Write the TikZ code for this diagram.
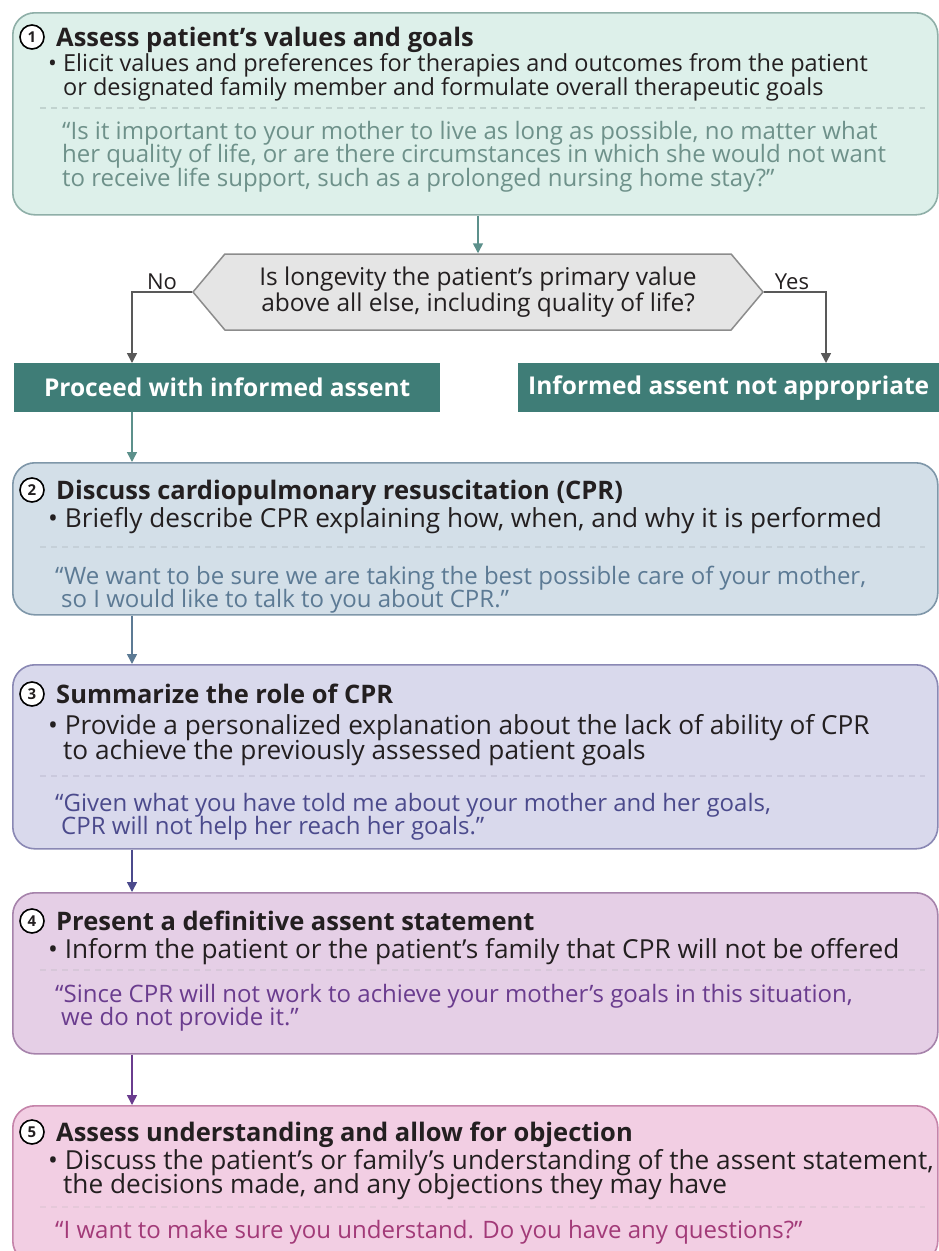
\documentclass[tikz,border=0pt]{standalone}
\usepackage{fontspec}
\setmainfont{Open Sans}
\usepackage{tikz}
\usetikzlibrary{arrows.meta,positioning,calc,shapes.symbols}
\definecolor{fillA}{HTML}{DDF0EA}\definecolor{lineA}{HTML}{8FAFA8}\definecolor{quoteA}{HTML}{6E918A}
\definecolor{fillB}{HTML}{D3DFE8}\definecolor{lineB}{HTML}{7F97A9}\definecolor{quoteB}{HTML}{5C7A94}
\definecolor{fillC}{HTML}{D9D9EC}\definecolor{lineC}{HTML}{8A88B4}\definecolor{quoteC}{HTML}{4B4A8C}
\definecolor{fillD}{HTML}{E5CFE6}\definecolor{lineD}{HTML}{A683AB}\definecolor{quoteD}{HTML}{6A3C8E}
\definecolor{fillE}{HTML}{F2CEE3}\definecolor{lineE}{HTML}{C584AA}\definecolor{quoteE}{HTML}{A23A78}
\definecolor{assentgreen}{HTML}{3F7D77}
\definecolor{darktext}{HTML}{231F20}
\tikzset{
  >={Triangle[width=10pt,length=10pt]},
  stepbox/.style={draw, line width=1.6pt, rounded corners=22pt, anchor=north west, minimum width=925pt, inner sep=0pt},
  numcirc/.style={draw, circle, line width=1.6pt, fill=white, minimum size=24pt, inner sep=0pt, text=darktext, font=\bfseries\fontsize{15}{15}\selectfont},
  topttl/.style={anchor=base west, inner sep=0pt, text=darktext, font=\bfseries\fontsize{25.5}{28}\selectfont},
  toptxt/.style={anchor=base west, inner sep=0pt, text=darktext, font=\fontsize{23.5}{26}\selectfont},
  topquote/.style={toptxt, font=\fontsize{24}{26}\selectfont},
  ttl/.style={anchor=base west, inner sep=0pt, text=darktext, font=\bfseries\fontsize{25.5}{28}\selectfont},
  txt/.style={anchor=base west, inner sep=0pt, text=darktext, font=\fontsize{26.2}{28}\selectfont},
  quote/.style={txt, font=\fontsize{24}{26}\selectfont},
  sep/.style={dash pattern=on 6pt off 5pt, line width=1.5pt},
  outcome/.style={anchor=north west, fill=assentgreen, text=white, minimum height=49pt, inner sep=0pt, font=\bfseries\fontsize{24.5}{26}\selectfont},
  decision/.style={signal, signal to=west and east, signal pointer angle=100, draw=black!45, fill=black!10, line width=1.5pt, minimum width=570pt, minimum height=76pt, inner sep=0pt, align=center, text=darktext, font=\fontsize{24.5}{26}\selectfont},
  lbl/.style={inner sep=0pt, text=darktext, font=\fontsize{22}{24}\selectfont},
  conn/.style={->, line width=1.5pt},
}

\begin{document}
\begin{tikzpicture}[x=1pt, y=-1pt]
  \useasboundingbox[fill=white] (0,0) rectangle (939,1251);
  \coordinate (spine) at (132,0);
  \coordinate (yesX) at (826,0);

  % step 1
  \node[stepbox, fill=fillA, draw=lineA, minimum height=202pt] (box1) at (12,12) {};
  \node[numcirc] (c1) at (32,37) {1};
  \node[topttl] (t1) at (56,46) {Assess patient’s values and goals};
  \node[toptxt] (b1a) at (48,71) {• Elicit values and preferences for therapies and outcomes from the patient};
  \node[toptxt] (b1b) at (63,95) {or designated family member and formulate overall therapeutic goals};
  \draw[sep, draw=lineA!55] (40,108) -- (925,108);
  \node[topquote, text=quoteA] (q1a) at (62,139) {“Is it important to your mother to live as long as possible, no matter what};
  \node[topquote, text=quoteA] (q1b) at (62,162) {her quality of life, or are there circumstances in which she would not want};
  \node[topquote, text=quoteA] (q1c) at (62,186) {to receive life support, such as a prolonged nursing home stay?”};

  % decision
  \node[decision] (hex) at (478,292) {Is longevity the patient’s primary value\\above all else, including quality of life?};
  \node[lbl] (nolbl) at (162,282) {No};
  \node[lbl] (yeslbl) at (792,282) {Yes};
  \node[outcome, minimum width=426pt] (proceed) at (14,363) {Proceed with informed assent};
  \node[outcome, minimum width=421pt] (notappr) at (518,363) {Informed assent not appropriate};

  % step 2
  \node[stepbox, fill=fillB, draw=lineB, minimum height=152pt] (box2) at (12,462) {};
  \node[numcirc] (c2) at (32,490) {2};
  \node[ttl] (t2) at (56,499) {Discuss cardiopulmonary resuscitation (CPR)};
  \node[txt] (b2a) at (48,527) {• Briefly describe CPR explaining how, when, and why it is performed};
  \draw[sep, draw=lineB!45] (40,547) -- (925,547);
  \node[quote, text=quoteB] (q2a) at (55,584) {“We want to be sure we are taking the best possible care of your mother,};
  \node[quote, text=quoteB] (q2b) at (61,607) {so I would like to talk to you about CPR.”};

  % step 3
  \node[stepbox, fill=fillC, draw=lineC, minimum height=184pt] (box3) at (12,664) {};
  \node[numcirc] (c3) at (32,694) {3};
  \node[ttl] (t3) at (56,703) {Summarize the role of CPR};
  \node[txt] (b3a) at (48,734) {• Provide a personalized explanation about the lack of ability of CPR};
  \node[txt] (b3b) at (63,759) {to achieve the previously assessed patient goals};
  \draw[sep, draw=lineC!45] (40,776) -- (925,776);
  \node[quote, text=quoteC] (q3a) at (55,811) {“Given what you have told me about your mother and her goals,};
  \node[quote, text=quoteC] (q3b) at (61,834) {CPR will not help her reach her goals.”};

  % step 4
  \node[stepbox, fill=fillD, draw=lineD, minimum height=161pt] (box4) at (12,892) {};
  \node[numcirc] (c4) at (32,921) {4};
  \node[ttl] (t4) at (56,930) {Present a definitive assent statement};
  \node[txt] (b4a) at (48,958) {• Inform the patient or the patient’s family that CPR will not be offered};
  \draw[sep, draw=lineD!45] (40,970) -- (925,970);
  \node[quote, text=quoteD] (q4a) at (55,1002) {“Since CPR will not work to achieve your mother’s goals in this situation,};
  \node[quote, text=quoteD] (q4b) at (61,1025) {we do not provide it.”};

  % step 5
  \node[stepbox, fill=fillE, draw=lineE, minimum height=157pt] (box5) at (12,1105) {};
  \node[numcirc] (c5) at (32,1132) {5};
  \node[ttl] (t5) at (56,1141) {Assess understanding and allow for objection};
  \node[txt] (b5a) at (48,1169) {• Discuss the patient’s or family’s understanding of the assent statement,};
  \node[txt] (b5b) at (63,1193) {the decisions made, and any objections they may have};
  \draw[sep, draw=lineE!45] (40,1207) -- (925,1207);
  \node[quote, text=quoteE] (q5a) at (55,1238) {“I want to make sure you understand. Do you have any questions?”};

  % connectors
  \draw[conn, draw=assentgreen!85] (box1.south -| hex.north) -- (hex.north);
  \draw[conn, draw=black!65] (hex.west) -| (proceed.north -| spine);
  \draw[conn, draw=black!65] (hex.east) -| (notappr.north -| yesX);
  \draw[conn, draw=assentgreen!85] (proceed.south -| spine) -- (box2.north -| spine);
  \draw[conn, draw=quoteB] (box2.south -| spine) -- (box3.north -| spine);
  \draw[conn, draw=quoteC] (box3.south -| spine) -- (box4.north -| spine);
  \draw[conn, draw=quoteD] (box4.south -| spine) -- (box5.north -| spine);
\end{tikzpicture}
\end{document}
